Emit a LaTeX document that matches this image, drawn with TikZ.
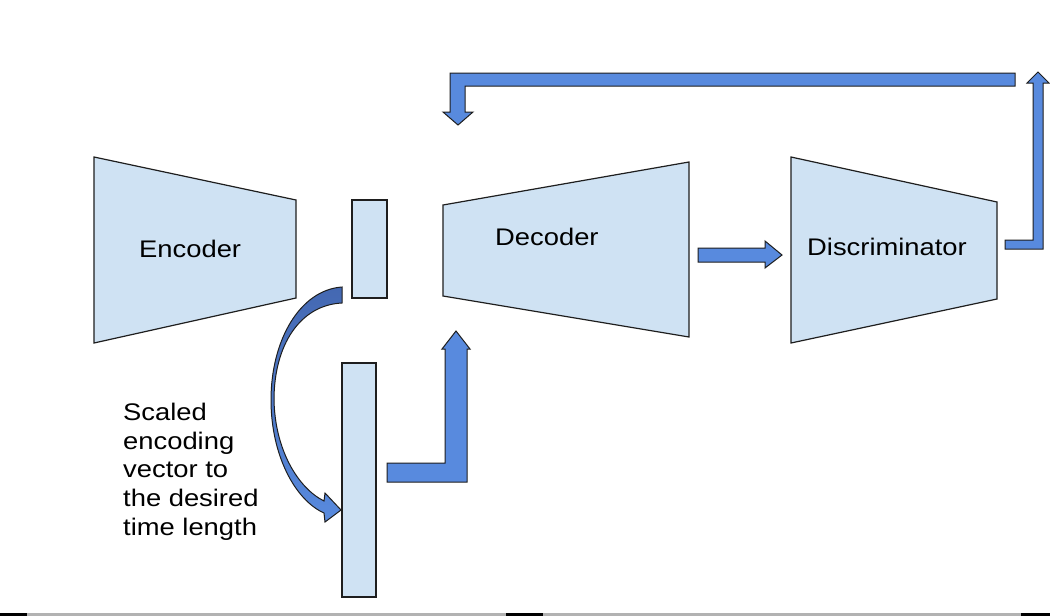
\documentclass[tikz,border=0pt]{standalone}
\usepackage{fontspec}
\setmainfont{Liberation Sans}
\usepackage{graphicx}
\definecolor{boxfill}{RGB}{207,226,243}
\definecolor{arrowblue}{RGB}{88,138,222}
\definecolor{arrowdark}{RGB}{68,104,178}
\definecolor{edgecol}{RGB}{30,30,30}
\newcommand\wtxt[1]{\scalebox{1.14}[1]{#1}}
\begin{document}
\begin{tikzpicture}[x=1pt,y=-1pt,
  blockshape/.style={draw=edgecol, line width=1.2pt, fill=boxfill, line join=miter},
  fatarrow/.style={draw=edgecol, line width=1pt, fill=arrowblue, line join=miter},
  lbl/.style={font=\fontsize{24}{28.75}\selectfont, inner sep=0pt, text=black}]
\useasboundingbox (0,0) rectangle (1050,616);
\fill[white] (0,0) rectangle (1050,616);
% bottom strip
\fill[black!30] (27,613) rectangle (506,616);
\fill[black!30] (543,613) rectangle (1021,616);
\fill[black] (0,613) rectangle (27,616);
\fill[black] (506,613) rectangle (543,616);
\fill[black] (1021,613) rectangle (1050,616);

% Encoder
\path[blockshape] (94,157) -- (296,200) -- (296,298) -- (94,343) -- cycle;
\node[lbl, anchor=base west] (enc) at (139,257) {\wtxt{Encoder}};
% encoding vector
\path[blockshape] (352,200) rectangle (387,298);
\coordinate (vecsmall) at (369,249);
% scaled vector
\path[blockshape] (342,363) rectangle (376,597);
\coordinate (veclong) at (359,480);
% Decoder
\path[blockshape] (443,205) -- (689,162) -- (689,337) -- (443,296) -- cycle;
\node[lbl, anchor=base west] (dec) at (495,245) {\wtxt{Decoder}};
% Discriminator
\path[blockshape] (791,157) -- (997,202) -- (997,299) -- (791,343) -- cycle;
\node[lbl, anchor=base west] (disc) at (807,255) {\wtxt{Discriminator}};

% caption
\node[lbl, anchor=north west] (cap) at (123,400) {\wtxt{\begin{tabular}{@{}l@{}}Scaled\\encoding\\vector to\\the desired\\time length\end{tabular}}};

% curved arrow from small vector to long vector
\path[draw=edgecol, line width=1pt, top color=arrowdark, bottom color=arrowblue, line join=miter]
  (342,287) .. controls (300,290) and (271,340) .. (271,400)
  .. controls (271,455) and (295,500) .. (324,513)
  -- (325,522) -- (341,510) -- (325,493) -- (324,501)
  .. controls (298,488) and (275,450) .. (274,400)
  .. controls (274,345) and (300,305) .. (342,303) -- cycle;

% L arrow from long vector up to decoder
\path[fatarrow] (387,463) -- (445,463) -- (445,349) -- (442,349) -- (456,331)
  -- (470,349) -- (467,349) -- (467,482) -- (387,482) -- cycle;

% arrow decoder -> discriminator
\path[fatarrow] (698,248) -- (765,248) -- (765,241) -- (782,255) -- (765,268)
  -- (765,262) -- (698,262) -- cycle;

% right up arrow from discriminator
\path[fatarrow] (1005,240) -- (1033,240) -- (1033,83) -- (1027,83) -- (1038,72)
  -- (1049,83) -- (1043,83) -- (1043,249) -- (1005,249) -- cycle;

% top feedback arrow
\path[fatarrow] (1015,73) -- (1015,86) -- (465,86) -- (465,112) -- (473,112)
  -- (458,125) -- (443,112) -- (450,112) -- (450,73) -- cycle;
\end{tikzpicture}
\end{document}
